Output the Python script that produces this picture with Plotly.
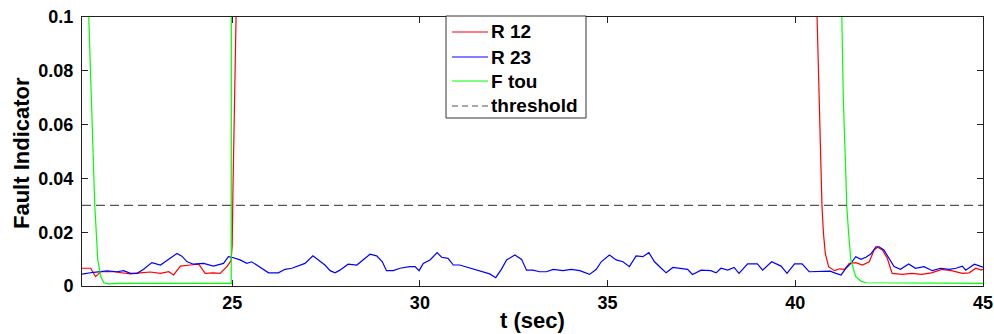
import plotly.graph_objects as go

# ---------------- data ----------------
t_r23 = [21.00, 21.31, 21.67, 21.93, 22.11, 22.29, 22.47, 22.64, 22.86, 23.09, 23.31, 23.53, 23.66, 23.80,
         23.97, 24.24, 24.50, 24.77, 24.90, 24.99, 25.21, 25.39, 25.52, 25.66, 25.83, 25.97, 26.23, 26.41,
         26.59, 26.76, 26.94, 27.15, 27.29, 27.47, 27.61, 27.74, 27.87, 28.09, 28.32, 28.49, 28.67, 28.85,
         29.00, 29.11, 29.29, 29.47, 29.73, 29.87, 29.98, 30.09, 30.27, 30.46, 30.58, 30.75, 30.89, 31.06,
         31.28, 31.51, 31.68, 31.86, 32.02, 32.17, 32.31, 32.53, 32.71, 32.84, 33.01, 33.19, 33.37, 33.55,
         33.81, 34.03, 34.26, 34.52, 34.70, 34.83, 35.05, 35.23, 35.41, 35.58, 35.76, 35.94, 36.10, 36.25,
         36.43, 36.56, 36.74, 37.00, 37.13, 37.26, 37.49, 37.75, 37.89, 38.02, 38.20, 38.37, 38.50, 38.73,
         38.99, 39.13, 39.37, 39.62, 39.78, 39.98, 40.18, 40.37, 40.64, 40.93, 41.08, 41.22, 41.35, 41.48,
         41.61, 41.75, 41.88, 42.01, 42.15, 42.23, 42.36, 42.49, 42.63, 42.80, 43.02, 43.20, 43.43, 43.65,
         43.87, 44.10, 44.28, 44.45, 44.54, 44.77, 44.95, 45.00]
v_r23 = [0.0044, 0.0051, 0.0056, 0.0053, 0.0057, 0.0047, 0.0047, 0.0062, 0.0087, 0.0078, 0.0099, 0.0121, 0.0111, 0.0090,
         0.0081, 0.0084, 0.0074, 0.0084, 0.0109, 0.0107, 0.0097, 0.0084, 0.0090, 0.0078, 0.0062, 0.0049, 0.0049, 0.0062,
         0.0066, 0.0074, 0.0084, 0.0112, 0.0097, 0.0078, 0.0057, 0.0049, 0.0059, 0.0081, 0.0078, 0.0097, 0.0118, 0.0112,
         0.0090, 0.0057, 0.0057, 0.0066, 0.0072, 0.0072, 0.0057, 0.0084, 0.0097, 0.0124, 0.0107, 0.0103, 0.0078, 0.0078,
         0.0069, 0.0062, 0.0053, 0.0045, 0.0031, 0.0062, 0.0097, 0.0115, 0.0099, 0.0059, 0.0059, 0.0053, 0.0053, 0.0062,
         0.0057, 0.0062, 0.0057, 0.0043, 0.0062, 0.0090, 0.0115, 0.0097, 0.0090, 0.0072, 0.0112, 0.0109, 0.0124, 0.0090,
         0.0066, 0.0049, 0.0069, 0.0066, 0.0062, 0.0043, 0.0059, 0.0057, 0.0049, 0.0066, 0.0059, 0.0069, 0.0047, 0.0082,
         0.0082, 0.0059, 0.0090, 0.0074, 0.0047, 0.0082, 0.0082, 0.0053, 0.0053, 0.0055, 0.0047, 0.0041, 0.0066, 0.0084,
         0.0109, 0.0099, 0.0107, 0.0119, 0.0146, 0.0146, 0.0134, 0.0103, 0.0072, 0.0062, 0.0082, 0.0066, 0.0072, 0.0057,
         0.0066, 0.0062, 0.0066, 0.0074, 0.0059, 0.0081, 0.0072, 0.0070]

t_r12 = [21.00, 21.23, 21.36, 21.50, 21.84, 22.11, 22.29, 22.55, 22.82, 23.09, 23.31, 23.44, 23.62, 23.88,
         24.11, 24.28, 24.50, 24.68, 24.86, 24.97, 25.00, 25.02, 25.04, 25.07, 25.11, 25.20, 40.50, 40.58,
         40.64, 40.67, 40.71, 40.75, 40.80, 40.89, 40.99, 41.05, 41.18, 41.31, 41.44, 41.61, 41.79, 41.97,
         42.10, 42.19, 42.32, 42.45, 42.58, 42.85, 43.10, 43.37, 43.63, 43.90, 44.16, 44.45, 44.63, 44.81,
         44.95, 45.00]
v_r12 = [0.0066, 0.0066, 0.0035, 0.0053, 0.0053, 0.0049, 0.0045, 0.0049, 0.0052, 0.0047, 0.0053, 0.0041, 0.0074, 0.0078,
         0.0081, 0.0047, 0.0049, 0.0047, 0.0072, 0.0094, 0.0150, 0.0350, 0.0500, 0.0750, 0.1050, 0.3000, 0.3000, 0.1000,
         0.0690, 0.0440, 0.0300, 0.0196, 0.0120, 0.0071, 0.0062, 0.0057, 0.0064, 0.0062, 0.0084, 0.0087, 0.0078, 0.0090,
         0.0134, 0.0144, 0.0134, 0.0103, 0.0047, 0.0043, 0.0047, 0.0043, 0.0049, 0.0062, 0.0057, 0.0047, 0.0049, 0.0066,
         0.0059, 0.0062]

t_ftou = [21.00, 21.10, 21.18, 21.28, 21.34, 21.42, 21.50, 21.58, 21.70, 22.00, 24.975, 24.985,
          41.15, 41.24, 41.28, 41.34, 41.37, 41.42, 41.48, 41.61, 41.75, 41.88, 45.00]
v_ftou = [0.3000, 0.1600, 0.1000, 0.0500, 0.0300, 0.0097, 0.0035, 0.0012, 0.0008, 0.0010, 0.0010, 0.3000,
          0.3000, 0.1000, 0.0690, 0.0440, 0.0300, 0.0196, 0.0097, 0.0035, 0.0018, 0.0012, 0.0010]

t_thr = [21, 45]
v_thr = [0.03, 0.03]

series_names = ["R 12", "R 23", "F tou", "threshold"]
x_ticks = [25, 30, 35, 40, 45]
y_ticks = [0, 0.02, 0.04, 0.06, 0.08, 0.1]
y_tick_text = ["0", "0.02", "0.04", "0.06", "0.08", "0.1"]

FONT = "Liberation Sans, Arial, sans-serif"

# plot-area geometry in pixels (for the hand-built MATLAB-style legend)
W, H = 994, 334
ML, MR, MT, MB = 82, 11, 17, 48
PW, PH = W - ML - MR, H - MT - MB


def px(p):
    return (p - ML) / PW


def py(p):
    return (H - MB - p) / PH


styles = [
    dict(color="#ff0000", width=1.2),
    dict(color="#0000ff", width=1.2),
    dict(color="#00ff00", width=1.2),
    dict(color="#555555", width=1.2, dash="9px,5px"),
]
xs = [t_r12, t_r23, t_ftou, t_thr]
ys = [v_r12, v_r23, v_ftou, v_thr]

fig = go.Figure()
for name, x, y, st in zip(series_names, xs, ys, styles):
    fig.add_trace(go.Scatter(x=x, y=y, mode="lines", name=name, line=st, showlegend=False))

# legend box
shapes = [dict(type="rect", xref="paper", yref="paper",
               x0=px(446), x1=px(586), y0=py(118), y1=py(16),
               line=dict(color="#333333", width=1), fillcolor="white", layer="above")]
annotations = []
row_y = [32, 57, 81, 106]
for i, (name, st) in enumerate(zip(series_names, styles)):
    lst = dict(st)
    if "dash" in lst:
        lst["dash"] = "6px,4px"
    shapes.append(dict(type="line", xref="paper", yref="paper",
                       x0=px(452), x1=px(488), y0=py(row_y[i]), y1=py(row_y[i]),
                       line=lst, layer="above"))
    annotations.append(dict(xref="paper", yref="paper", x=px(488.5), y=py(row_y[i]),
                            xanchor="left", yanchor="middle", showarrow=False,
                            text="<b>%s</b>" % name,
                            font=dict(family=FONT, size=19, color="black")))

# axis titles as text placed like MATLAB's
annotations.append(dict(xref="paper", yref="paper", x=px(532), y=py(333.5),
                        xanchor="center", yanchor="bottom", showarrow=False,
                        borderpad=0,
                        text="<b>t (sec)</b>", font=dict(family=FONT, size=22, color="black")))
annotations.append(dict(xref="paper", yref="paper", x=px(21), y=py(153),
                        xanchor="center", yanchor="middle", showarrow=False, textangle=-90,
                        text="<b>Fault Indicator</b>", font=dict(family=FONT, size=22, color="black")))

fig.update_layout(
    width=W, height=H,
    margin=dict(l=ML, r=MR, t=MT, b=MB),
    paper_bgcolor="white", plot_bgcolor="white",
    font=dict(family=FONT, color="black", size=18),
    showlegend=False,
    shapes=shapes,
    annotations=annotations,
    xaxis=dict(range=[21, 45], tickvals=x_ticks, ticks="inside", ticklen=6,
               tickcolor="#222222", showline=True, linecolor="#222222", linewidth=1,
               mirror="ticks", showgrid=False, zeroline=False, automargin=False,
               tickfont=dict(family=FONT, size=18, weight="bold"),
               ticklabelstandoff=0),
    yaxis=dict(range=[0, 0.1], tickvals=y_ticks, ticktext=y_tick_text, ticks="inside",
               ticklen=6, tickcolor="#222222", showline=True, linecolor="#222222",
               linewidth=1, mirror="ticks", showgrid=False, zeroline=False, automargin=False,
               tickfont=dict(family=FONT, size=18, weight="bold"),
               ticklabelstandoff=4),
)

fig.write_html("out.html")
